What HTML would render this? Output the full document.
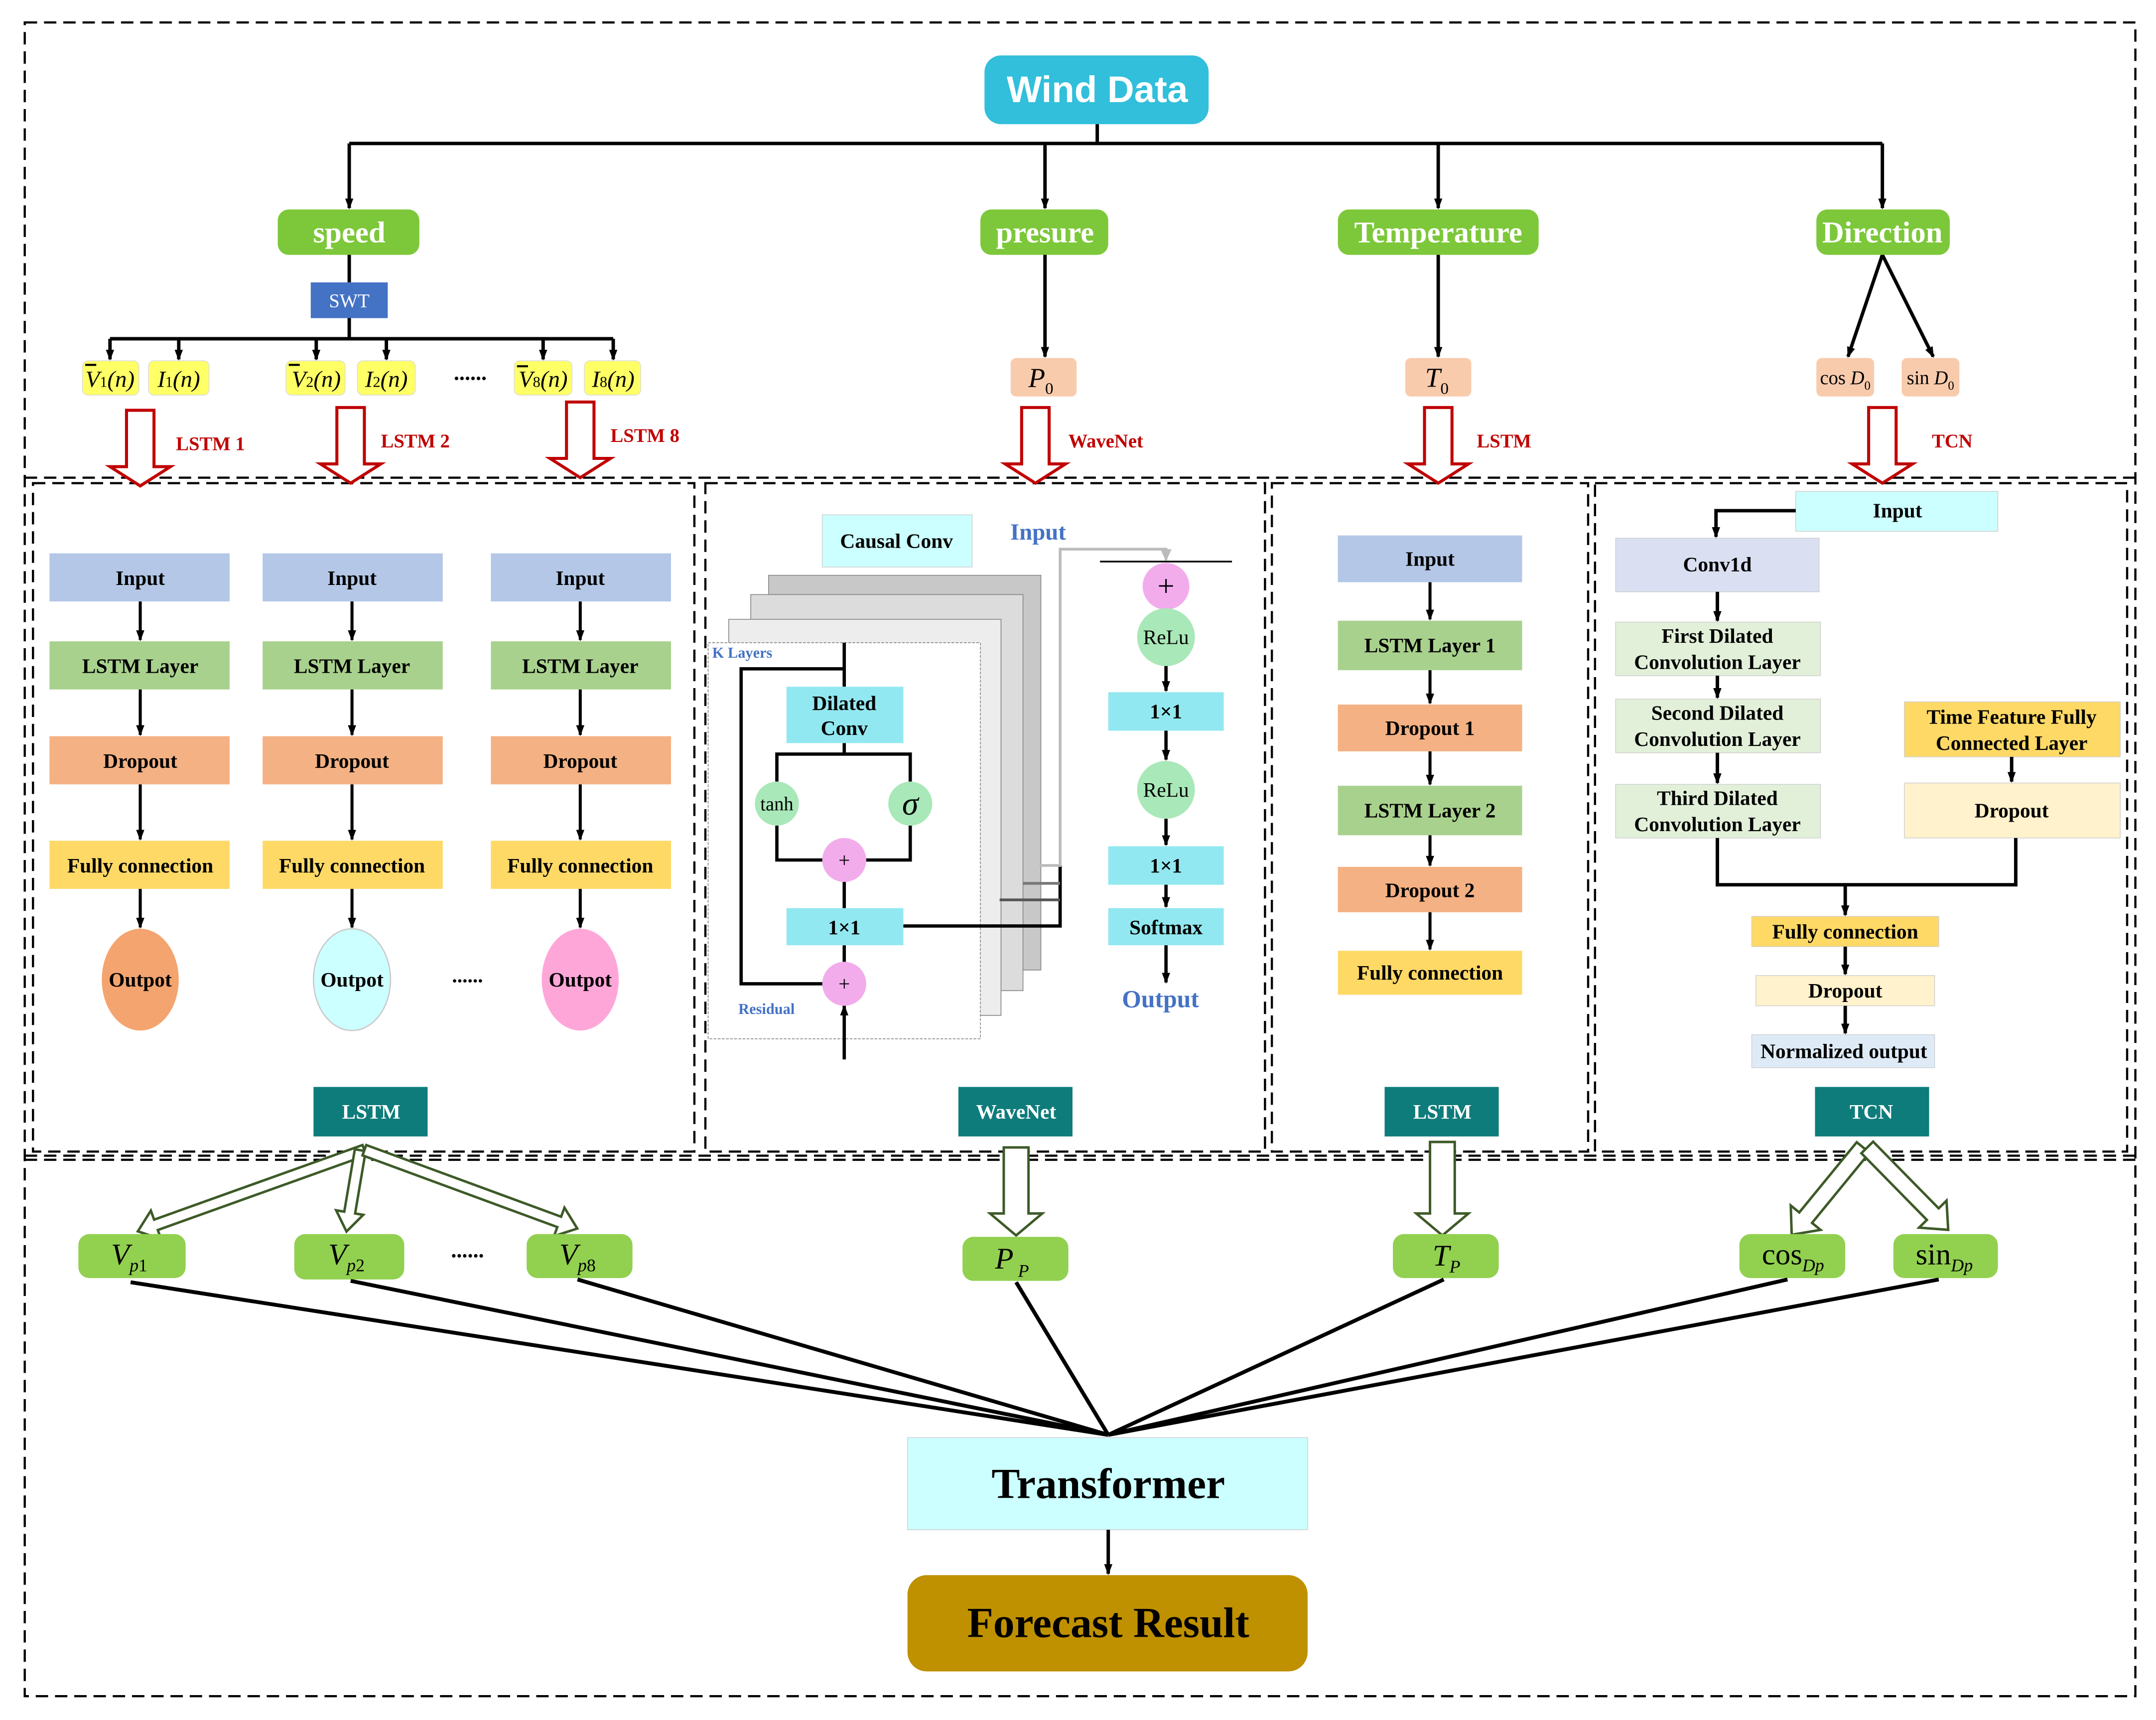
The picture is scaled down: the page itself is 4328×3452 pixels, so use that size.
<!DOCTYPE html>
<html><head><meta charset="utf-8"><style>html,body{margin:0;padding:0;background:#fff}svg{display:block}</style></head>
<body>
<svg xmlns="http://www.w3.org/2000/svg" width="4328" height="3452" viewBox="0 0 1568 1250" font-family="'Liberation Serif',serif">
<defs>
<marker id="a" markerWidth="8" markerHeight="8" refX="7" refY="4" orient="auto" markerUnits="userSpaceOnUse"><path d="M0,1 L8,4 L0,7 Z" fill="#000"/></marker>
<marker id="ag" markerWidth="10" markerHeight="10" refX="8" refY="5" orient="auto" markerUnits="userSpaceOnUse"><path d="M0,1 L9,5 L0,9 Z" fill="#bbb"/></marker>
</defs>
<rect width="1568" height="1250" fill="#fff"/>
<g fill="none" stroke="#000" stroke-width="1.6" stroke-dasharray="9,5">
<rect x="18" y="16" width="1535" height="1217"/>
<line x1="18" y1="347" x2="1553" y2="347"/>
<line x1="18" y1="843" x2="1553" y2="843"/>
<rect x="24" y="351" width="481" height="486"/>
<rect x="513" y="351" width="407" height="486"/>
<rect x="925" y="351" width="230" height="486"/>
<rect x="1160" y="351" width="387" height="486"/>
<line x1="18" y1="840" x2="1553" y2="840"/>
</g>
<!-- top tree -->
<rect x="716" y="40" width="163" height="50" rx="12" fill="#31BFDB"/>
<text x="798" y="74" text-anchor="middle" font-family="'Liberation Sans',sans-serif" font-weight="bold" font-size="27" fill="#fff">Wind Data</text>
<g stroke="#000" stroke-width="2.5" fill="none">
<line x1="798" y1="90" x2="798" y2="104"/>
<line x1="254" y1="104" x2="1369" y2="104"/>
<line x1="254" y1="104" x2="254" y2="151" marker-end="url(#a)"/>
<line x1="760" y1="104" x2="760" y2="151" marker-end="url(#a)"/>
<line x1="1046" y1="104" x2="1046" y2="151" marker-end="url(#a)"/>
<line x1="1369" y1="104" x2="1369" y2="151" marker-end="url(#a)"/>
<line x1="254" y1="185" x2="254" y2="205"/>
<line x1="254" y1="231" x2="254" y2="246"/>
<line x1="80" y1="246" x2="446" y2="246"/>
<line x1="80" y1="246" x2="80" y2="261" marker-end="url(#a)"/>
<line x1="130" y1="246" x2="130" y2="261" marker-end="url(#a)"/>
<line x1="230" y1="246" x2="230" y2="261" marker-end="url(#a)"/>
<line x1="281" y1="246" x2="281" y2="261" marker-end="url(#a)"/>
<line x1="395" y1="246" x2="395" y2="261" marker-end="url(#a)"/>
<line x1="446" y1="246" x2="446" y2="261" marker-end="url(#a)"/>
<line x1="760" y1="185" x2="760" y2="259" marker-end="url(#a)"/>
<line x1="1046" y1="185" x2="1046" y2="259" marker-end="url(#a)"/>
<line x1="1369" y1="185" x2="1344" y2="259" marker-end="url(#a)"/>
<line x1="1369" y1="185" x2="1406" y2="259" marker-end="url(#a)"/>
</g>
<g fill="#7DC83A">
<rect x="202" y="152" width="103" height="33" rx="8"/>
<rect x="713" y="152" width="93" height="33" rx="8"/>
<rect x="973" y="152" width="146" height="33" rx="8"/>
<rect x="1321" y="152" width="97" height="33" rx="8"/>
</g>
<g font-weight="bold" font-size="22" fill="#fff" text-anchor="middle">
<text x="254" y="176">speed</text><text x="760" y="176">presure</text><text x="1046" y="176">Temperature</text><text x="1369" y="176">Direction</text>
</g>
<rect x="226" y="205" width="56" height="26" fill="#4472C4"/>
<text x="254" y="223" text-anchor="middle" font-size="14" fill="#fff">SWT</text>
<g fill="#FFFF66" stroke="#ddd" stroke-width="0.6">
<rect x="60" y="262" width="41" height="25" rx="4"/><rect x="108" y="262" width="44" height="25" rx="4"/>
<rect x="208" y="262" width="43" height="25" rx="4"/><rect x="260" y="262" width="42" height="25" rx="4"/>
<rect x="374" y="262" width="42" height="25" rx="4"/><rect x="425" y="262" width="41" height="25" rx="4"/>
</g>
<g font-size="17" font-style="italic" text-anchor="middle">
<text x="80" y="281">V<tspan font-size="11" font-style="normal">1</tspan>(n)</text>
<text x="130" y="281">I<tspan font-size="11" font-style="normal">1</tspan>(n)</text>
<text x="230" y="281">V<tspan font-size="11" font-style="normal">2</tspan>(n)</text>
<text x="281" y="281">I<tspan font-size="11" font-style="normal">2</tspan>(n)</text>
<text x="395" y="281">V<tspan font-size="11" font-style="normal">8</tspan>(n)</text>
<text x="446" y="281">I<tspan font-size="11" font-style="normal">8</tspan>(n)</text>
</g>
<g stroke="#000" stroke-width="1.5"><line x1="62" y1="265" x2="70" y2="265"/><line x1="210" y1="265" x2="218" y2="265"/><line x1="376" y1="266" x2="384" y2="266"/></g>
<text x="342" y="276" text-anchor="middle" font-size="16" font-weight="bold">......</text>
<g fill="#F8CBAD">
<rect x="735" y="260" width="48" height="28" rx="4"/><rect x="1022" y="260" width="48" height="28" rx="4"/>
<rect x="1321" y="260" width="42" height="28" rx="4"/><rect x="1383" y="260" width="42" height="28" rx="4"/>
</g>
<text x="757" y="281" font-size="20" font-style="italic" text-anchor="middle">P<tspan font-size="12" font-style="normal" dy="5">0</tspan></text>
<text x="1045" y="281" font-size="20" font-style="italic" text-anchor="middle">T<tspan font-size="12" font-style="normal" dy="5">0</tspan></text>
<text x="1342" y="279" font-size="14" text-anchor="middle">cos <tspan font-style="italic">D</tspan><tspan font-size="9" dy="4">0</tspan></text>
<text x="1404" y="279" font-size="14" text-anchor="middle">sin <tspan font-style="italic">D</tspan><tspan font-size="9" dy="4">0</tspan></text>
<!-- red arrows -->
<g fill="#fff" stroke="#C00000" stroke-width="2.2">
<path d="M92,298 H112 V339 H124 L102,353 L80,339 H92 Z"/>
<path d="M245,296 H265 V337 H277 L255,351 L233,337 H245 Z"/>
<path d="M412,292 H432 V333 H444 L422,347 L400,333 H412 Z"/>
<path d="M743,296 H763 V337 H775 L753,351 L731,337 H743 Z"/>
<path d="M1036,296 H1056 V337 H1068 L1046,351 L1024,337 H1036 Z"/>
<path d="M1359,296 H1379 V337 H1391 L1369,351 L1347,337 H1359 Z"/>
</g>
<g fill="#C00000" font-weight="bold" font-size="14">
<text x="128" y="327">LSTM 1</text><text x="277" y="325">LSTM 2</text><text x="444" y="321">LSTM 8</text>
<text x="777" y="325">WaveNet</text><text x="1074" y="325">LSTM</text><text x="1405" y="325">TCN</text>
</g>
<!-- LSTM columns -->
<g id="c1">
<rect x="36" y="402" width="131" height="35" fill="#B4C7E7"/>
<rect x="36" y="466" width="131" height="35" fill="#A9D18E"/>
<rect x="36" y="535" width="131" height="35" fill="#F4B183"/>
<rect x="36" y="611" width="131" height="35" fill="#FFD966"/>
</g>
<use href="#c1" x="155"/><use href="#c1" x="321"/>
<g stroke="#000" stroke-width="2.2">
<line x1="102" y1="437" x2="102" y2="465" marker-end="url(#a)"/><line x1="102" y1="501" x2="102" y2="534" marker-end="url(#a)"/><line x1="102" y1="570" x2="102" y2="610" marker-end="url(#a)"/><line x1="102" y1="646" x2="102" y2="674" marker-end="url(#a)"/>
<line x1="256" y1="437" x2="256" y2="465" marker-end="url(#a)"/><line x1="256" y1="501" x2="256" y2="534" marker-end="url(#a)"/><line x1="256" y1="570" x2="256" y2="610" marker-end="url(#a)"/><line x1="256" y1="646" x2="256" y2="674" marker-end="url(#a)"/>
<line x1="422" y1="437" x2="422" y2="465" marker-end="url(#a)"/><line x1="422" y1="501" x2="422" y2="534" marker-end="url(#a)"/><line x1="422" y1="570" x2="422" y2="610" marker-end="url(#a)"/><line x1="422" y1="646" x2="422" y2="674" marker-end="url(#a)"/>
</g>
<ellipse cx="102" cy="712" rx="28" ry="37" fill="#F4A46E"/>
<ellipse cx="256" cy="712" rx="28" ry="37" fill="#CCFFFF" stroke="#ccc"/>
<ellipse cx="422" cy="712" rx="28" ry="37" fill="#FFA6D9"/>
<g font-weight="bold" font-size="15" text-anchor="middle">
<text x="102" y="425">Input</text><text x="256" y="425">Input</text><text x="422" y="425">Input</text>
<text x="102" y="489">LSTM Layer</text><text x="256" y="489">LSTM Layer</text><text x="422" y="489">LSTM Layer</text>
<text x="102" y="558">Dropout</text><text x="256" y="558">Dropout</text><text x="422" y="558">Dropout</text>
<text x="102" y="634">Fully connection</text><text x="256" y="634">Fully connection</text><text x="422" y="634">Fully connection</text>
<text x="102" y="717">Outpot</text><text x="256" y="717">Outpot</text><text x="422" y="717">Outpot</text>
<text x="340" y="714">......</text>
</g>
<g fill="#0E7C7B"><rect x="228" y="790" width="83" height="36"/><rect x="697" y="790" width="83" height="36"/><rect x="1007" y="790" width="83" height="36"/><rect x="1320" y="790" width="83" height="36"/></g>
<g fill="#fff" font-size="15" font-weight="bold" text-anchor="middle">
<text x="270" y="813">LSTM</text><text x="739" y="813">WaveNet</text><text x="1049" y="813">LSTM</text><text x="1361" y="813">TCN</text>
</g>
<!-- WaveNet -->
<rect x="598" y="374" width="109" height="38" fill="#CCFFFF" stroke="#ccc" stroke-width="0.5"/>
<text x="652" y="398" text-anchor="middle" font-weight="bold" font-size="15">Causal Conv</text>
<text x="755" y="392" text-anchor="middle" font-weight="bold" font-size="17" fill="#4472C4">Input</text>
<rect x="559" y="418" width="198" height="287" fill="#C8C8C8" stroke="#888" stroke-width="0.6"/>
<rect x="546" y="432" width="198" height="288" fill="#DCDCDC" stroke="#888" stroke-width="0.6"/>
<rect x="530" y="450" width="198" height="288" fill="#EDEDED" stroke="#888" stroke-width="0.6"/>
<rect x="515" y="467" width="198" height="288" fill="#fff" stroke="#888" stroke-width="0.6" stroke-dasharray="2,1"/>
<text x="518" y="478" font-size="11" font-weight="bold" fill="#4472C4">K Layers</text>
<text x="537" y="737" font-size="11" font-weight="bold" fill="#4472C4">Residual</text>
<g stroke="#000" stroke-width="2.4" fill="none">
<line x1="614" y1="467" x2="614" y2="499"/>
<polyline points="614,486 539,486 539,715 600,715"/>
<line x1="614" y1="540" x2="614" y2="548"/>
<polyline points="565,568 565,548 662,548 662,568"/>
<polyline points="565,600 565,625 600,625"/><polyline points="662,600 662,625 629,625"/>
<line x1="614" y1="640" x2="614" y2="660"/><line x1="614" y1="687" x2="614" y2="700"/>
<line x1="614" y1="770" x2="614" y2="731" marker-end="url(#a)"/>
<polyline points="657,673 771,673 771,629"/>
</g>
<g stroke-width="2" fill="none">
<line x1="727" y1="654" x2="771" y2="654" stroke="#555"/>
<line x1="744" y1="642" x2="771" y2="642" stroke="#777"/>
<polyline points="756,629 771,629 771,399 848,399 848,407" stroke="#bbb" marker-end="url(#ag)"/>
</g>
<rect x="572" y="499" width="85" height="41" fill="#92E8F0"/>
<text x="614" y="516" text-anchor="middle" font-weight="bold" font-size="15">Dilated</text>
<text x="614" y="534" text-anchor="middle" font-weight="bold" font-size="15">Conv</text>
<circle cx="565" cy="584" r="16" fill="#A9E8B8"/><text x="565" y="589" text-anchor="middle" font-size="14">tanh</text>
<circle cx="662" cy="584" r="16" fill="#A9E8B8"/><text x="662" y="592" text-anchor="middle" font-size="24" font-style="italic">σ</text>
<circle cx="614" cy="625" r="16" fill="#F2ACEC"/><text x="614" y="630" text-anchor="middle" font-size="15">+</text>
<rect x="572" y="660" width="85" height="27" fill="#92E8F0"/><text x="614" y="679" text-anchor="middle" font-weight="bold" font-size="15">1×1</text>
<circle cx="614" cy="715" r="16" fill="#F2ACEC"/><text x="614" y="720" text-anchor="middle" font-size="15">+</text>
<line x1="800" y1="408" x2="896" y2="408" stroke="#000" stroke-width="1.2"/>
<circle cx="848" cy="426" r="17" fill="#F2ACEC"/><text x="848" y="433" text-anchor="middle" font-size="22">+</text>
<circle cx="848" cy="463" r="21" fill="#A9E8B8"/><text x="848" y="468" text-anchor="middle" font-size="15">ReLu</text>
<rect x="806" y="503" width="84" height="28" fill="#92E8F0"/><text x="848" y="522" text-anchor="middle" font-weight="bold" font-size="15">1×1</text>
<circle cx="848" cy="574" r="21" fill="#A9E8B8"/><text x="848" y="579" text-anchor="middle" font-size="15">ReLu</text>
<rect x="806" y="615" width="84" height="28" fill="#92E8F0"/><text x="848" y="634" text-anchor="middle" font-weight="bold" font-size="15">1×1</text>
<rect x="806" y="660" width="84" height="27" fill="#92E8F0"/><text x="848" y="679" text-anchor="middle" font-weight="bold" font-size="15">Softmax</text>
<text x="844" y="732" text-anchor="middle" font-weight="bold" font-size="18" fill="#4472C4">Output</text>
<g stroke="#000" stroke-width="2.4">
<line x1="848" y1="484" x2="848" y2="502" marker-end="url(#a)"/><line x1="848" y1="531" x2="848" y2="552" marker-end="url(#a)"/>
<line x1="848" y1="595" x2="848" y2="614" marker-end="url(#a)"/><line x1="848" y1="643" x2="848" y2="659" marker-end="url(#a)"/>
<line x1="848" y1="687" x2="848" y2="714" marker-end="url(#a)"/>
</g>
<!-- LSTM middle -->
<rect x="973" y="389" width="134" height="34" fill="#B4C7E7"/>
<rect x="973" y="451" width="134" height="36" fill="#A9D18E"/>
<rect x="973" y="512" width="134" height="34" fill="#F4B183"/>
<rect x="973" y="571" width="134" height="36" fill="#A9D18E"/>
<rect x="973" y="630" width="134" height="33" fill="#F4B183"/>
<rect x="973" y="691" width="134" height="32" fill="#FFD966"/>
<g font-weight="bold" font-size="15" text-anchor="middle">
<text x="1040" y="411">Input</text><text x="1040" y="474">LSTM Layer 1</text><text x="1040" y="534">Dropout 1</text>
<text x="1040" y="594">LSTM Layer 2</text><text x="1040" y="652">Dropout 2</text><text x="1040" y="712">Fully connection</text>
</g>
<g stroke="#000" stroke-width="2.2">
<line x1="1040" y1="423" x2="1040" y2="450" marker-end="url(#a)"/><line x1="1040" y1="487" x2="1040" y2="511" marker-end="url(#a)"/>
<line x1="1040" y1="546" x2="1040" y2="570" marker-end="url(#a)"/><line x1="1040" y1="607" x2="1040" y2="629" marker-end="url(#a)"/>
<line x1="1040" y1="663" x2="1040" y2="690" marker-end="url(#a)"/>
</g>
<!-- TCN -->
<rect x="1306" y="357" width="147" height="29" fill="#CCFFFF" stroke="#ccc" stroke-width="0.5"/>
<rect x="1175" y="391" width="148" height="39" fill="#DAE0F2" stroke="#ccc" stroke-width="0.5"/>
<rect x="1175" y="452" width="149" height="39" fill="#E2F0D9" stroke="#ccc" stroke-width="0.5"/>
<rect x="1175" y="508" width="149" height="39" fill="#E2F0D9" stroke="#ccc" stroke-width="0.5"/>
<rect x="1175" y="570" width="149" height="39" fill="#E2F0D9" stroke="#ccc" stroke-width="0.5"/>
<rect x="1385" y="510" width="157" height="40" fill="#FFD966" stroke="#ccc" stroke-width="0.5"/>
<rect x="1385" y="569" width="157" height="40" fill="#FFF2CC" stroke="#ccc" stroke-width="0.5"/>
<rect x="1274" y="666" width="136" height="22" fill="#FFD966" stroke="#ccc" stroke-width="0.5"/>
<rect x="1277" y="709" width="130" height="22" fill="#FFF2CC" stroke="#ccc" stroke-width="0.5"/>
<rect x="1274" y="752" width="133" height="24" fill="#DEEBF7" stroke="#ccc" stroke-width="0.5"/>
<g font-weight="bold" font-size="15" text-anchor="middle">
<text x="1380" y="376">Input</text><text x="1249" y="415">Conv1d</text>
<text x="1249" y="467">First Dilated</text><text x="1249" y="486">Convolution Layer</text>
<text x="1249" y="523">Second Dilated</text><text x="1249" y="542">Convolution Layer</text>
<text x="1249" y="585">Third Dilated</text><text x="1249" y="604">Convolution Layer</text>
<text x="1463" y="526">Time Feature Fully</text><text x="1463" y="545">Connected Layer</text>
<text x="1463" y="594">Dropout</text><text x="1342" y="682">Fully connection</text>
<text x="1342" y="725">Dropout</text><text x="1341" y="769">Normalized output</text>
</g>
<g stroke="#000" stroke-width="2.5" fill="none">
<polyline points="1306,371 1248,371 1248,390" marker-end="url(#a)"/>
<line x1="1249" y1="430" x2="1249" y2="451" marker-end="url(#a)"/>
<line x1="1249" y1="491" x2="1249" y2="507" marker-end="url(#a)"/>
<line x1="1249" y1="547" x2="1249" y2="569" marker-end="url(#a)"/>
<line x1="1463" y1="550" x2="1463" y2="568" marker-end="url(#a)"/>
<polyline points="1249,609 1249,643 1466,643 1466,609"/>
<line x1="1342" y1="643" x2="1342" y2="665" marker-end="url(#a)"/>
<line x1="1342" y1="688" x2="1342" y2="708" marker-end="url(#a)"/>
<line x1="1342" y1="731" x2="1342" y2="751" marker-end="url(#a)"/>
</g>
<!-- hollow green arrows -->
<g fill="#fff" stroke="#3D5A27" stroke-width="1.8">
<g transform="translate(265,836) rotate(160.3)"><path d="M0,-4 H161 V-11 L175,0 L161,11 V4 H0 Z"/></g>
<g transform="translate(262,836) rotate(99.6)"><path d="M0,-4 H46 V-10 L60,0 L46,10 V4 H0 Z"/></g>
<g transform="translate(265,836) rotate(20.2)"><path d="M0,-4 H151 V-11 L165,0 L151,11 V4 H0 Z"/></g>
<g transform="translate(739,834) rotate(90)"><path d="M0,-9 H48 V-19 L64,0 L48,19 V9 H0 Z"/></g>
<g transform="translate(1049,830) rotate(90)"><path d="M0,-9 H52 V-19 L68,0 L52,19 V9 H0 Z"/></g>
<g transform="translate(1355,834) rotate(129.3)"><path d="M0,-6 H66 V-14 L82,0 L66,14 V6 H0 Z"/></g>
<g transform="translate(1358,834) rotate(45.5)"><path d="M0,-6 H68 V-14 L84,0 L68,14 V6 H0 Z"/></g>
</g>
<g fill="#92D050">
<rect x="57" y="897" width="78" height="32" rx="8"/><rect x="214" y="897" width="80" height="33" rx="8"/>
<rect x="383" y="897" width="77" height="32" rx="8"/><rect x="700" y="899" width="77" height="32" rx="8"/>
<rect x="1013" y="897" width="77" height="32" rx="8"/><rect x="1265" y="897" width="77" height="32" rx="8"/>
<rect x="1377" y="897" width="76" height="32" rx="8"/>
</g>
<g font-size="22" font-style="italic" text-anchor="middle">
<text x="94" y="919">V<tspan font-size="13" dy="5">p</tspan><tspan font-size="13" font-style="normal">1</tspan></text>
<text x="252" y="919">V<tspan font-size="13" dy="5">p</tspan><tspan font-size="13" font-style="normal">2</tspan></text>
<text x="420" y="919">V<tspan font-size="13" dy="5">p</tspan><tspan font-size="13" font-style="normal">8</tspan></text>
<text x="736" y="922">P<tspan font-size="13" dy="6"> P</tspan></text>
<text x="1052" y="920">T<tspan font-size="13" dy="5">P</tspan></text>
<text x="1304" y="919" font-style="normal">cos<tspan font-size="13" font-style="italic" dy="5">Dp</tspan></text>
<text x="1414" y="919" font-style="normal">sin<tspan font-size="13" font-style="italic" dy="5">Dp</tspan></text>
</g>
<text x="340" y="914" text-anchor="middle" font-size="16" font-weight="bold">......</text>
<g stroke="#000" stroke-width="2.8">
<line x1="95" y1="932" x2="806" y2="1043"/><line x1="255" y1="931" x2="806" y2="1043"/>
<line x1="420" y1="930" x2="806" y2="1043"/><line x1="739" y1="932" x2="806" y2="1043"/>
<line x1="1050" y1="930" x2="806" y2="1043"/><line x1="1300" y1="930" x2="806" y2="1043"/>
<line x1="1410" y1="930" x2="806" y2="1043"/>
</g>
<rect x="660" y="1045" width="291" height="67" fill="#CCFFFF" stroke="#ccc" stroke-width="0.5"/>
<text x="806" y="1089" text-anchor="middle" font-weight="bold" font-size="31">Transformer</text>
<line x1="806" y1="1112" x2="806" y2="1144" stroke="#000" stroke-width="2.5" marker-end="url(#a)"/>
<rect x="660" y="1145" width="291" height="70" rx="14" fill="#BF9000"/>
<text x="806" y="1190" text-anchor="middle" font-weight="bold" font-size="31">Forecast Result</text>
</svg>
</body></html>
